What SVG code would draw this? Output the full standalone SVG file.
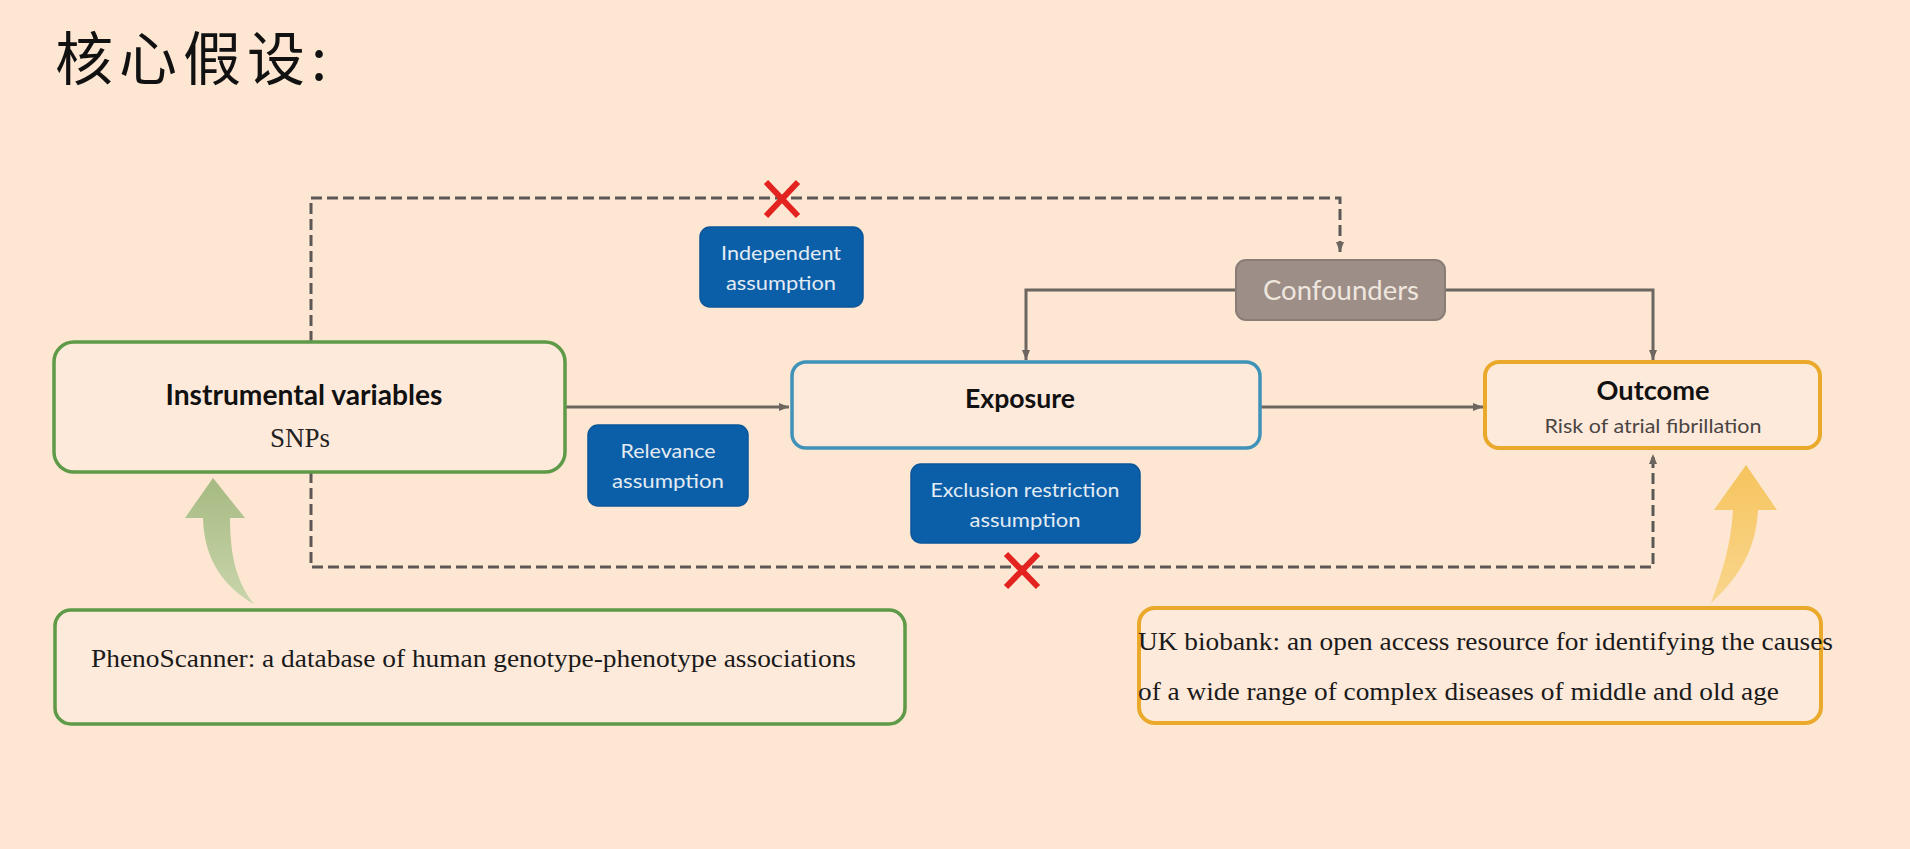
<svg xmlns="http://www.w3.org/2000/svg" width="1910" height="849" viewBox="0 0 1910 849">
<defs>
<style>
.bg{fill:#fde6d2}
.box{fill:#feeadb}
.iv{stroke:#5e9a48;stroke-width:3.5}
.exp{stroke:#3f93b8;stroke-width:3.5}
.out{stroke:#eaa92a;stroke-width:4}
.asm{fill:#0b5fa8;stroke:#0a5699;stroke-width:1.5}
.conf{fill:#9d8f88;stroke:#8a7d77;stroke-width:2}
.solid{fill:none;stroke:#6d6560;stroke-width:3}
.dash{fill:none;stroke:#5d5855;stroke-width:3;stroke-dasharray:11 5}
.cross{stroke:#e3231f;stroke-width:6;stroke-linecap:butt}
.lbl{font-family:Lato,"Liberation Sans",sans-serif;font-weight:bold;fill:#111;text-anchor:middle}
.sub{font-family:Lato,"Liberation Sans",sans-serif;fill:#4a4542;text-anchor:middle}
.atxt{font-family:Lato,"Liberation Sans",sans-serif;fill:#e3ebf3;text-anchor:middle;font-size:20px}
.serif{font-family:"Liberation Serif","Times New Roman",serif;fill:#1a1a1a;font-size:25px}
</style>
<marker id="ah" viewBox="0 0 10 8" refX="10" refY="4" markerWidth="10" markerHeight="8" markerUnits="userSpaceOnUse" orient="auto">
<path d="M0,0 L10,4 L0,8 Z" fill="#6d6560"/>
</marker>
<linearGradient id="gg" x1="0" y1="0" x2="0" y2="1">
<stop offset="0" stop-color="#a6ba82"/>
<stop offset="1" stop-color="#c9d5ab"/>
</linearGradient>
<linearGradient id="yg" x1="0" y1="0" x2="0" y2="1">
<stop offset="0" stop-color="#f6c45e"/>
<stop offset="1" stop-color="#f9d68e"/>
</linearGradient>
</defs>
<rect class="bg" x="0" y="0" width="1910" height="849"/>
<text x="55" y="80" font-family="'Noto Sans CJK SC','Noto Sans',sans-serif" font-size="58" fill="#111" textLength="272" lengthAdjust="spacing">核心假设:</text>

<g id="connectors">
<path class="dash" d="M311,342 V198 H1340 V252" marker-end="url(#ah)"/>
<path class="dash" d="M311,472 V567 H1653 V454" marker-end="url(#ah)"/>
<path class="solid" d="M565,407 H789" marker-end="url(#ah)"/>
<path class="solid" d="M1260,407 H1483" marker-end="url(#ah)"/>
<path class="solid" d="M1235,290 H1026 V360" marker-end="url(#ah)"/>
<path class="solid" d="M1445,290 H1653 V360" marker-end="url(#ah)"/>
<g id="cross-top"><line class="cross" x1="766" y1="182" x2="798" y2="216"/><line class="cross" x1="798" y1="182" x2="766" y2="216"/></g>
<g id="cross-bottom"><line class="cross" x1="1006" y1="554" x2="1038" y2="587"/><line class="cross" x1="1038" y1="554" x2="1006" y2="587"/></g>
<path id="green-arrow" d="M213,478 L245,518 L230,518 C230,557 237,583 254,604 C226,588 204,562 203,518 L185,518 Z" fill="url(#gg)"/>
<path id="yellow-arrow" d="M1746,465 L1777,510 L1758,510 C1756,548 1740,577 1711,603 C1722,572 1731,546 1733,510 L1714,510 Z" fill="url(#yg)"/>
</g>

<g id="iv">
<rect class="box iv" x="54" y="342" width="511" height="130" rx="20"/>
<text class="lbl" x="304" y="405" font-size="28" textLength="277" lengthAdjust="spacingAndGlyphs">Instrumental variables</text>
<text x="300" y="447" font-family="'Liberation Serif',serif" font-size="27" fill="#222" text-anchor="middle">SNPs</text>
</g>

<g id="exposure">
<rect class="box exp" x="792" y="362" width="468" height="86" rx="14"/>
<text class="lbl" x="1020" y="408" font-size="26" textLength="110" lengthAdjust="spacingAndGlyphs">Exposure</text>
</g>

<g id="outcome">
<rect class="box out" x="1485" y="362" width="335" height="86" rx="14"/>
<text class="lbl" x="1653" y="400" font-size="26" textLength="113" lengthAdjust="spacingAndGlyphs">Outcome</text>
<text class="sub" x="1653" y="433" font-size="19" textLength="217" lengthAdjust="spacingAndGlyphs">Risk of atrial fibrillation</text>
</g>

<g id="confounders">
<rect class="conf" x="1236" y="260" width="209" height="60" rx="10"/>
<text x="1341" y="300" font-family="Lato,'Liberation Sans',sans-serif" font-size="26" fill="#efe6de" text-anchor="middle" textLength="156" lengthAdjust="spacingAndGlyphs">Confounders</text>
</g>

<g id="independent">
<rect class="asm" x="700" y="227" width="163" height="80" rx="10"/>
<text class="atxt" x="781" y="260" textLength="120" lengthAdjust="spacingAndGlyphs">Independent</text>
<text class="atxt" x="781" y="290" textLength="110" lengthAdjust="spacingAndGlyphs">assumption</text>
</g>

<g id="relevance">
<rect class="asm" x="588" y="425" width="160" height="81" rx="10"/>
<text class="atxt" x="668" y="458" textLength="95" lengthAdjust="spacingAndGlyphs">Relevance</text>
<text class="atxt" x="668" y="488" textLength="112" lengthAdjust="spacingAndGlyphs">assumption</text>
</g>

<g id="exclusion">
<rect class="asm" x="911" y="464" width="229" height="79" rx="10"/>
<text class="atxt" x="1025" y="497" textLength="189" lengthAdjust="spacingAndGlyphs">Exclusion restriction</text>
<text class="atxt" x="1025" y="527" textLength="111" lengthAdjust="spacingAndGlyphs">assumption</text>
</g>

<g id="phenoscanner">
<rect class="box iv" x="55" y="610" width="850" height="114" rx="16"/>
<text class="serif" x="91" y="667" textLength="765" lengthAdjust="spacingAndGlyphs">PhenoScanner: a database of human genotype-phenotype associations</text>
</g>

<g id="ukbiobank">
<rect class="box out" x="1139" y="608" width="682" height="115" rx="16"/>
<text class="serif" x="1138" y="650" textLength="695" lengthAdjust="spacingAndGlyphs">UK biobank: an open access resource for identifying the causes</text>
<text class="serif" x="1138" y="700" textLength="641" lengthAdjust="spacingAndGlyphs">of a wide range of complex diseases of middle and old age</text>
</g>
</svg>
